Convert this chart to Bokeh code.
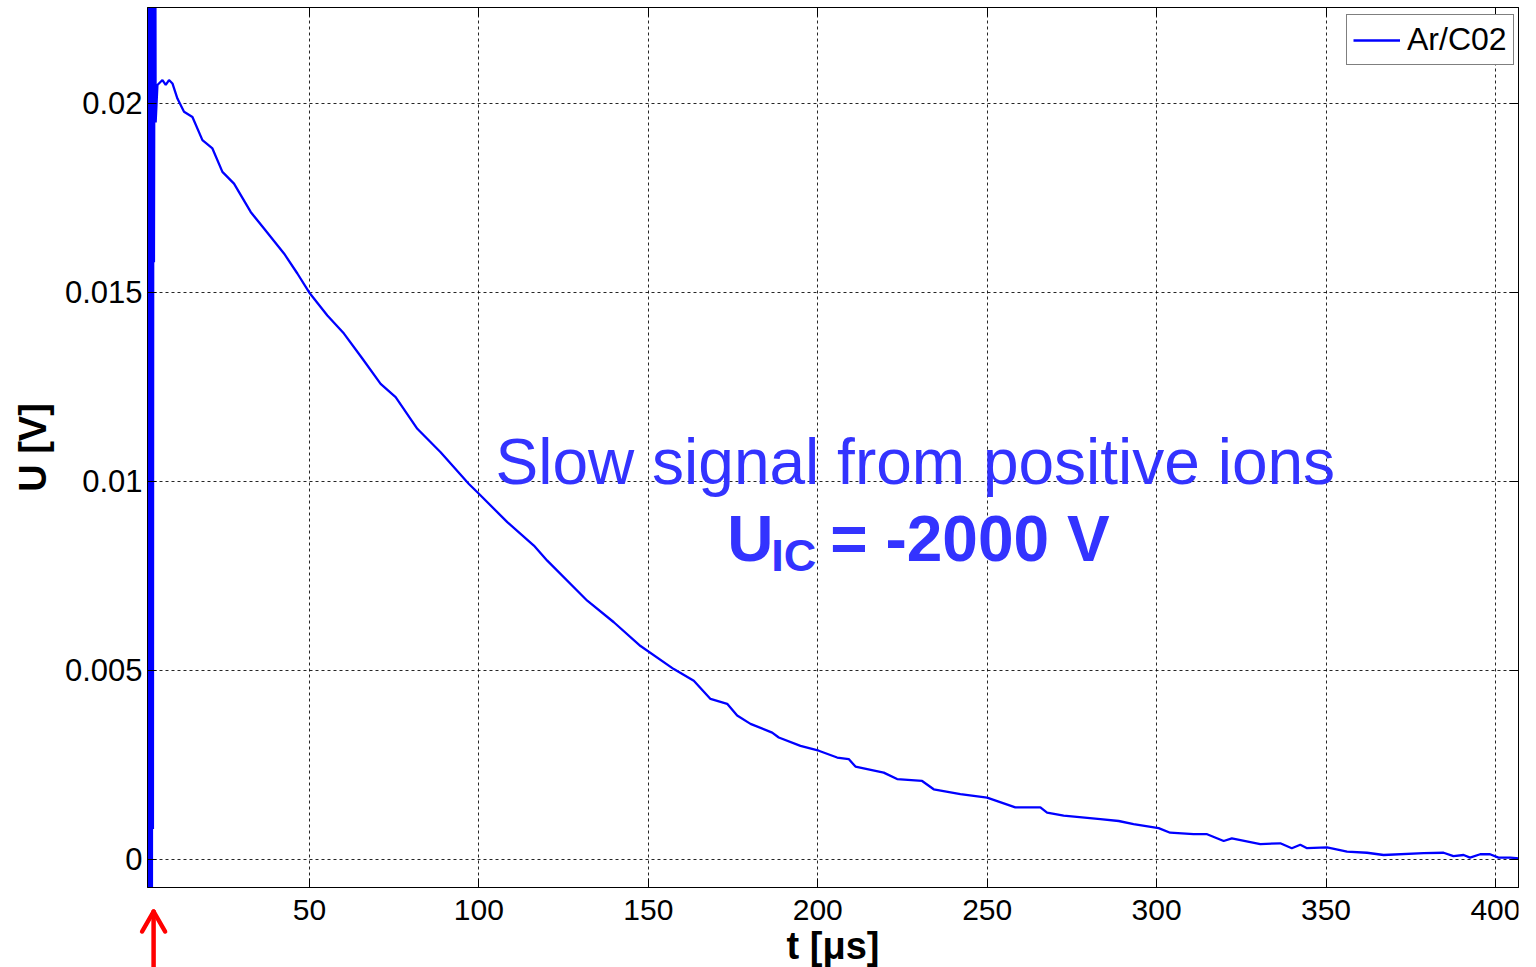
from bokeh.plotting import figure
from bokeh.models import Range1d, FixedTicker, LinearAxis, Label
from bokeh.layouts import column
from bokeh.core.properties import value
from bokeh.embed import file_html
from bokeh.resources import INLINE

# ---- data ----
spike_t = [2.3, 2.45, 2.6, 2.75, 2.9, 3.05, 3.2, 3.35, 3.5, 3.65, 3.8, 3.95, 4.1, 4.4, 4.6]
spike_u = [-0.003, 0.03, -0.003, 0.03, -0.003, 0.03, -0.003, 0.03, -0.003, 0.03,
           0.0008, 0.03, 0.0158, 0.03, 0.0195]

decay_t = [5.13, 6.61, 7.58, 8.55, 9.56, 11.03, 12.98, 15.46, 18.41, 21.36, 24.31, 27.73,
           32.65, 36.58, 42.48, 46.43, 50.15, 55.28, 60.18, 65.6, 71.0, 75.43, 81.83, 88.7,
           97.05, 100.0, 108.38, 116.22, 120.18, 131.98, 139.82, 147.7, 157.52, 163.42,
           168.35, 173.27, 176.22, 180.15, 186.55, 188.5, 194.9, 200.3, 205.72, 209.14,
           211.12, 219.47, 223.42, 230.8, 234.22, 242.1, 249.97, 258.3, 265.7, 267.67,
           272.57, 283.4, 288.8, 293.2, 300.6, 304.0, 310.9, 314.9, 319.8, 322.2, 330.6,
           336.5, 339.9, 342.4, 344.4, 350.3, 356.2, 362.1, 367.0, 378.8, 384.7, 387.6,
           390.6, 392.5, 395.5, 398.4, 400.9, 404.4, 407.3]
decay_u = [0.02049, 0.02062, 0.02049, 0.02062, 0.02053, 0.02013, 0.01978, 0.01964, 0.01903,
           0.01881, 0.01819, 0.01788, 0.01713, 0.01669, 0.01603, 0.0155, 0.01497, 0.01439,
           0.01391, 0.01325, 0.01258, 0.01223, 0.01139, 0.01077, 0.00993, 0.00967, 0.00892,
           0.0083, 0.0079, 0.00684, 0.00627, 0.00564, 0.00503, 0.00472, 0.00424, 0.00411,
           0.0038, 0.00358, 0.00335, 0.00322, 0.003, 0.00287, 0.00269, 0.00265, 0.00245,
           0.00229, 0.00212, 0.00207, 0.00185, 0.00172, 0.00163, 0.00137, 0.00137, 0.00123,
           0.00115, 0.00106, 0.00101, 0.00093, 0.00082, 0.0007, 0.00066, 0.00066, 0.00048,
           0.00055, 0.0004, 0.00042, 0.00029, 0.00038, 0.00029, 0.00031, 0.0002, 0.00017,
           0.00011, 0.00016, 0.00017, 0.00008, 0.00011, 0.00004, 0.00013, 0.00013, 0.00004,
           0.00004, 0.00002]

t_all = spike_t + decay_t
u_all = spike_u + decay_u

x_ticks = [50, 100, 150, 200, 250, 300, 350, 400]
x_tick_labels = ["50", "100", "150", "200", "250", "300", "350", "400"]
y_ticks = [0, 0.005, 0.01, 0.015, 0.02]
y_tick_labels = ["0", "0.005", "0.01", "0.015", "0.02"]

trigger_t = 4.0          # time of the trigger marked by the red arrow

series_name = "Ar/C02"
x_title = "t [μs]"
y_title = "U [V]"
note_line1 = "Slow signal from positive ions"
note_main = "U"
note_sub = "IC"
note_rest = "= -2000 V"

FONT = "Liberation Sans"
BLUE_TXT = "#3333FF"
W = 1536
BORDER_L, BORDER_R = 147, 18
T0, T1 = 2.2, 406.8
X_RANGE = Range1d(T0, T1)

# ================= main plot =================
p = figure(width=W, height=890, output_backend="svg", toolbar_location=None,
           x_range=X_RANGE, y_range=Range1d(-0.00075, 0.02254),
           min_border_left=BORDER_L, min_border_right=BORDER_R, min_border_top=7,
           min_border_bottom=3, y_axis_label=y_title)

p.background_fill_color = "white"
p.border_fill_color = "white"
p.outline_line_color = "black"
p.outline_line_width = 1

p.xgrid.ticker = FixedTicker(ticks=x_ticks)
p.ygrid.ticker = FixedTicker(ticks=y_ticks)
for g in (p.xgrid[0], p.ygrid[0]):
    g.grid_line_color = "black"
    g.grid_line_alpha = 0.85
    g.grid_line_dash = "3 3"
    g.grid_line_width = 1

xa = p.xaxis[0]
ya = p.yaxis[0]
xa.ticker = FixedTicker(ticks=x_ticks)
ya.ticker = FixedTicker(ticks=y_ticks)
ya.major_label_overrides = {t: l for t, l in zip(y_ticks, y_tick_labels)}
for ax in (xa, ya):
    ax.axis_line_color = "black"
    ax.major_tick_line_color = "black"
    ax.major_tick_in = 9
    ax.major_tick_out = 0
    ax.minor_tick_line_color = None
ya.major_label_text_font = FONT
ya.major_label_text_color = "black"
ya.major_label_text_font_size = "31px"
ya.major_label_standoff = 5
ya.axis_label_text_font = FONT
ya.axis_label_text_font_size = "38px"
ya.axis_label_text_font_style = "bold"
ya.axis_label_text_color = "black"
ya.axis_label_standoff = 8
# bottom tick labels are drawn in the strip below (together with the arrow)
xa.major_label_text_font_size = "1px"
xa.major_label_text_color = None
xa.major_label_standoff = 0

top_ax = LinearAxis(ticker=FixedTicker(ticks=x_ticks), major_tick_in=9, major_tick_out=0,
                    minor_tick_line_color=None, major_label_text_font_size="1px",
                    major_label_text_color=None, major_label_standoff=0,
                    axis_line_color="black")
right_ax = LinearAxis(ticker=FixedTicker(ticks=y_ticks), major_tick_in=9, major_tick_out=0,
                      minor_tick_line_color=None, major_label_text_font_size="1px",
                      major_label_text_color=None, major_label_standoff=0,
                      axis_line_color="black")
p.add_layout(top_ax, "above")
p.add_layout(right_ax, "right")

p.line(t_all, u_all, line_color="#0000FF", line_width=2.3, legend_label=series_name)

lg = p.legend[0]
lg.location = (1199, 822)
lg.border_line_color = "black"
lg.border_line_width = 1
lg.background_fill_color = "white"
lg.background_fill_alpha = 1
lg.label_text_font = FONT
lg.label_text_font_size = "32px"
lg.label_text_color = "black"
lg.glyph_width = 47
lg.glyph_height = 28
lg.label_height = 28
lg.label_standoff = 7
lg.padding = 6
lg.margin = 0
lg.spacing = 0

p.add_layout(Label(x=228.8, y=0.0105, text=note_line1, text_align="center",
                   text_baseline="alphabetic", text_font=FONT, text_font_size="64px",
                   text_color=BLUE_TXT))
p.add_layout(Label(x=173.3, y=0.00848, text=note_main, text_align="left",
                   text_baseline="alphabetic", text_font=FONT, text_font_size="64px",
                   text_font_style="bold", text_color=BLUE_TXT))
p.add_layout(Label(x=186.3, y=0.00803, text=note_sub, text_align="left",
                   text_baseline="alphabetic", text_font=FONT, text_font_size="45px",
                   text_font_style="bold", text_color=BLUE_TXT))
p.add_layout(Label(x=203.7, y=0.00848, text=note_rest, text_align="left",
                   text_baseline="alphabetic", text_font=FONT, text_font_size="64px",
                   text_font_style="bold", text_color=BLUE_TXT))

# ================= strip below the axis: tick labels, axis title, arrow =================
px_per_t = (W - BORDER_L - BORDER_R) / (T1 - T0)
STRIP_H = 77

q = figure(width=W, height=STRIP_H, output_backend="svg", toolbar_location=None,
           x_axis_type=None, y_axis_type=None, y_range=Range1d(0, STRIP_H),
           min_border_right=BORDER_R, min_border_top=0, min_border_bottom=0)
try:
    # let the strip's frame reach the left edge (same time scale as the main plot)
    q.frame_align = False
    q.x_range = Range1d(T0 - BORDER_L / px_per_t, T1)
    q.min_border_left = 0
except Exception:
    q.x_range = X_RANGE
    q.min_border_left = BORDER_L

q.grid.visible = False
q.outline_line_color = None
q.background_fill_color = "white"
q.border_fill_color = "white"

# x tick labels, placed by the time scale
q.text(x=x_ticks, y=[STRIP_H - 19] * len(x_ticks), text=x_tick_labels,
       text_align="center", text_baseline="middle", text_font=value(FONT),
       text_font_size="30px", text_color="black")

# x axis title
q.add_layout(Label(x=(T0 + T1) / 2, y=22, text=x_title,
                   text_align="center", text_baseline="middle", text_font=FONT,
                   text_font_size="38px", text_font_style="bold", text_color="black"))

# red arrow at the trigger time (shaft + open head)
head_dx = 11.5 / px_per_t
tip_y = STRIP_H - 21
q.segment(x0=[trigger_t, trigger_t, trigger_t],
          y0=[-3, tip_y, tip_y],
          x1=[trigger_t, trigger_t - head_dx, trigger_t + head_dx],
          y1=[tip_y - 1, tip_y - 20, tip_y - 20],
          line_color="#FF0000", line_width=4.5, line_cap="round")

layout = column(p, q, spacing=0)
open("out.html", "w").write(file_html(layout, INLINE))
